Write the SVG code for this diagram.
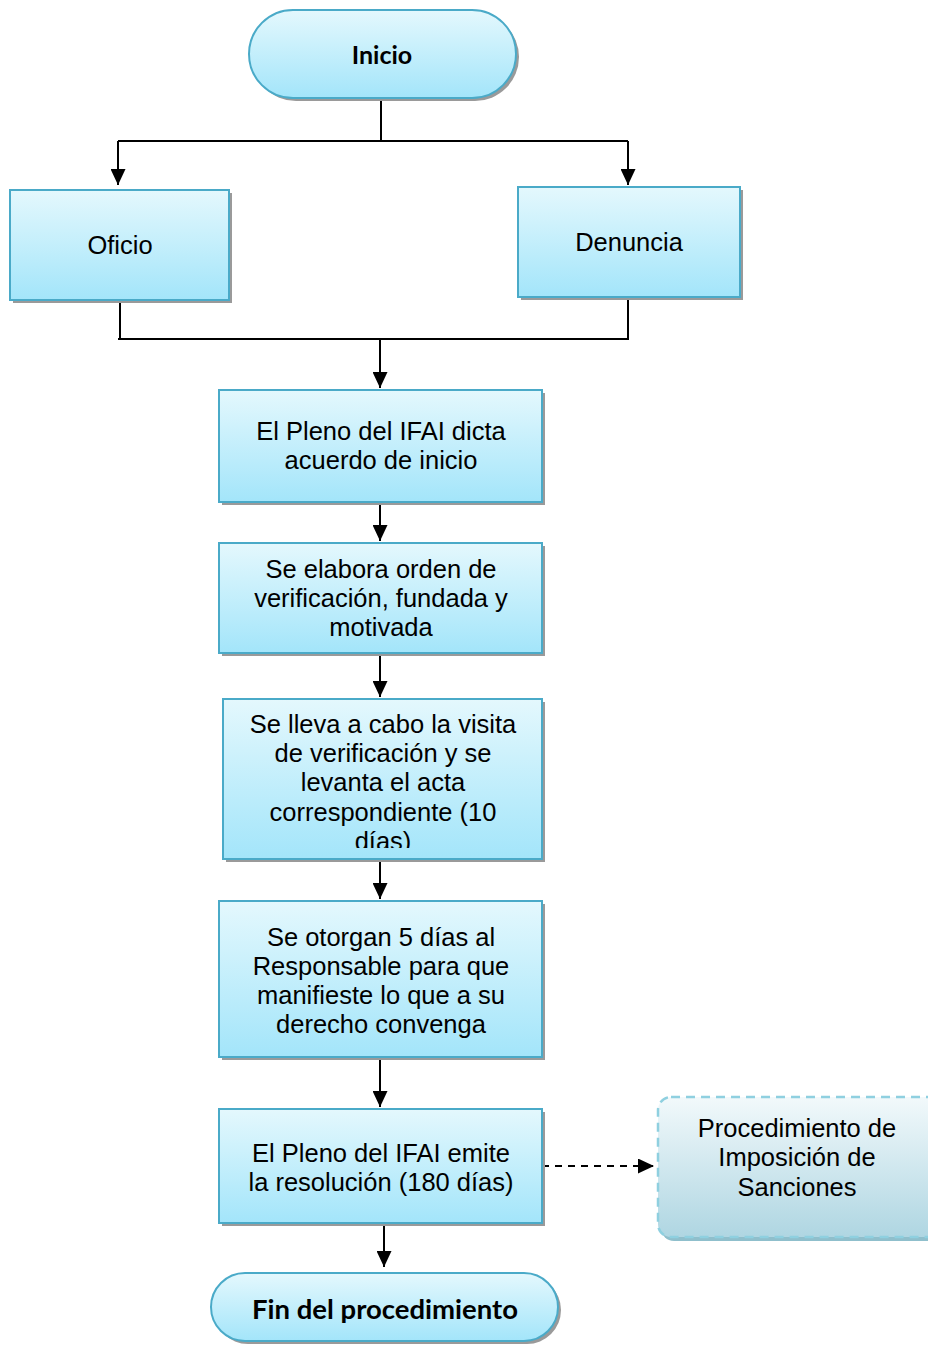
<svg xmlns="http://www.w3.org/2000/svg" width="928" height="1346" viewBox="0 0 928 1346">
  <defs>
    <linearGradient id="boxFill" x1="0" y1="0" x2="0" y2="1">
      <stop offset="0" stop-color="#e4f8fd"/>
      <stop offset="1" stop-color="#a3e5fa"/>
    </linearGradient>
    <linearGradient id="extFill" x1="0" y1="0" x2="0" y2="1">
      <stop offset="0" stop-color="#f2f9fb"/>
      <stop offset="1" stop-color="#afd6e2"/>
    </linearGradient>
    <marker id="arrowBig" viewBox="0 0 16 15" refX="16" refY="7.5" markerWidth="16" markerHeight="15" markerUnits="userSpaceOnUse" orient="auto">
      <path d="M0,0 L16,7.5 L0,15 Z" fill="#000"/>
    </marker>
    <clipPath id="clipVisita">
      <rect x="223" y="699" width="319" height="149"/>
    </clipPath>
  </defs>
  <style>
    .box { fill: url(#boxFill); stroke: #4aaac8; stroke-width: 2; }
    .shadow { fill: #9a9a9a; }
    .ext { fill: url(#extFill); stroke: #8fd0e0; stroke-width: 2.5; stroke-dasharray: 9 6; }
    .extShadow { fill: #8fbfcc; }
    .lbl { font-family: "Liberation Sans", Arial, sans-serif; font-size: 25.5px; fill: #000; text-anchor: middle; }
    .term { font-family: Lato, "Open Sans", sans-serif; font-weight: bold; fill: #000; text-anchor: middle; }
    .link { fill: none; stroke: #000; stroke-width: 2; }
    .dash { fill: none; stroke: #000; stroke-width: 2; stroke-dasharray: 7 6; }
  </style>

  <rect width="928" height="1346" fill="#fff"/>

  <g id="connectors">
    <path class="link" d="M381,98 V141"/>
    <path class="link" d="M118,141 H628"/>
    <path class="link" d="M118,141 V185" marker-end="url(#arrowBig)"/>
    <path class="link" d="M628,141 V185" marker-end="url(#arrowBig)"/>
    <path class="link" d="M120,299 V339"/>
    <path class="link" d="M628,297 V339"/>
    <path class="link" d="M118,339 H629"/>
    <path class="link" d="M380,339 V388" marker-end="url(#arrowBig)"/>
    <path class="link" d="M380,501 V541" marker-end="url(#arrowBig)"/>
    <path class="link" d="M380,653 V697" marker-end="url(#arrowBig)"/>
    <path class="link" d="M380,859 V899" marker-end="url(#arrowBig)"/>
    <path class="link" d="M380,1057 V1107" marker-end="url(#arrowBig)"/>
    <path class="link" d="M384,1223 V1267" marker-end="url(#arrowBig)"/>
    <path class="dash" d="M542,1166 H654" marker-end="url(#arrowBig)"/>
  </g>

  <g id="inicio">
    <rect class="shadow" x="252" y="13" width="267" height="88" rx="44"/>
    <rect class="box" x="249" y="10" width="267" height="88" rx="44"/>
    <text class="term" x="382" y="64" font-size="25">Inicio</text>
  </g>

  <g id="oficio">
    <rect class="shadow" x="13" y="193" width="219" height="110"/>
    <rect class="box" x="10" y="190" width="219" height="110"/>
    <text class="lbl" x="120" y="254">Oficio</text>
  </g>

  <g id="denuncia">
    <rect class="shadow" x="521" y="190" width="222" height="110"/>
    <rect class="box" x="518" y="187" width="222" height="110"/>
    <text class="lbl" x="629" y="251">Denuncia</text>
  </g>

  <g id="acuerdo">
    <rect class="shadow" x="222" y="393" width="323" height="112"/>
    <rect class="box" x="219" y="390" width="323" height="112"/>
    <text class="lbl" x="381" y="440">El Pleno del IFAI dicta</text>
    <text class="lbl" x="381" y="469">acuerdo de inicio</text>
  </g>

  <g id="orden">
    <rect class="shadow" x="222" y="546" width="323" height="110"/>
    <rect class="box" x="219" y="543" width="323" height="110"/>
    <text class="lbl" x="381" y="578">Se elabora orden de</text>
    <text class="lbl" x="381" y="607">verificación, fundada y</text>
    <text class="lbl" x="381" y="636">motivada</text>
  </g>

  <g id="visita">
    <rect class="shadow" x="226" y="702" width="319" height="160"/>
    <rect class="box" x="223" y="699" width="319" height="160"/>
    <g clip-path="url(#clipVisita)">
      <text class="lbl" x="383" y="733">Se lleva a cabo la visita</text>
      <text class="lbl" x="383" y="762">de verificación y se</text>
      <text class="lbl" x="383" y="791">levanta el acta</text>
      <text class="lbl" x="383" y="821">correspondiente (10</text>
      <text class="lbl" x="383" y="850">días)</text>
    </g>
  </g>

  <g id="plazo">
    <rect class="shadow" x="222" y="904" width="323" height="156"/>
    <rect class="box" x="219" y="901" width="323" height="156"/>
    <text class="lbl" x="381" y="946">Se otorgan 5 días al</text>
    <text class="lbl" x="381" y="975">Responsable para que</text>
    <text class="lbl" x="381" y="1004">manifieste lo que a su</text>
    <text class="lbl" x="381" y="1033">derecho convenga</text>
  </g>

  <g id="resolucion">
    <rect class="shadow" x="222" y="1112" width="323" height="114"/>
    <rect class="box" x="219" y="1109" width="323" height="114"/>
    <text class="lbl" x="381" y="1162">El Pleno del IFAI emite</text>
    <text class="lbl" x="381" y="1191">la resolución (180 días)</text>
  </g>

  <g id="sanciones">
    <rect class="extShadow" x="661" y="1101" width="290" height="140" rx="13"/>
    <rect class="ext" x="658" y="1097" width="290" height="140" rx="13"/>
    <text class="lbl" x="797" y="1137">Procedimiento de</text>
    <text class="lbl" x="797" y="1166">Imposición de</text>
    <text class="lbl" x="797" y="1196">Sanciones</text>
  </g>

  <g id="fin">
    <rect class="shadow" x="214" y="1276" width="347" height="68" rx="34"/>
    <rect class="box" x="211" y="1273" width="347" height="68" rx="34"/>
    <text class="term" x="385" y="1319" font-size="27.5">Fin del procedimiento</text>
  </g>
</svg>
